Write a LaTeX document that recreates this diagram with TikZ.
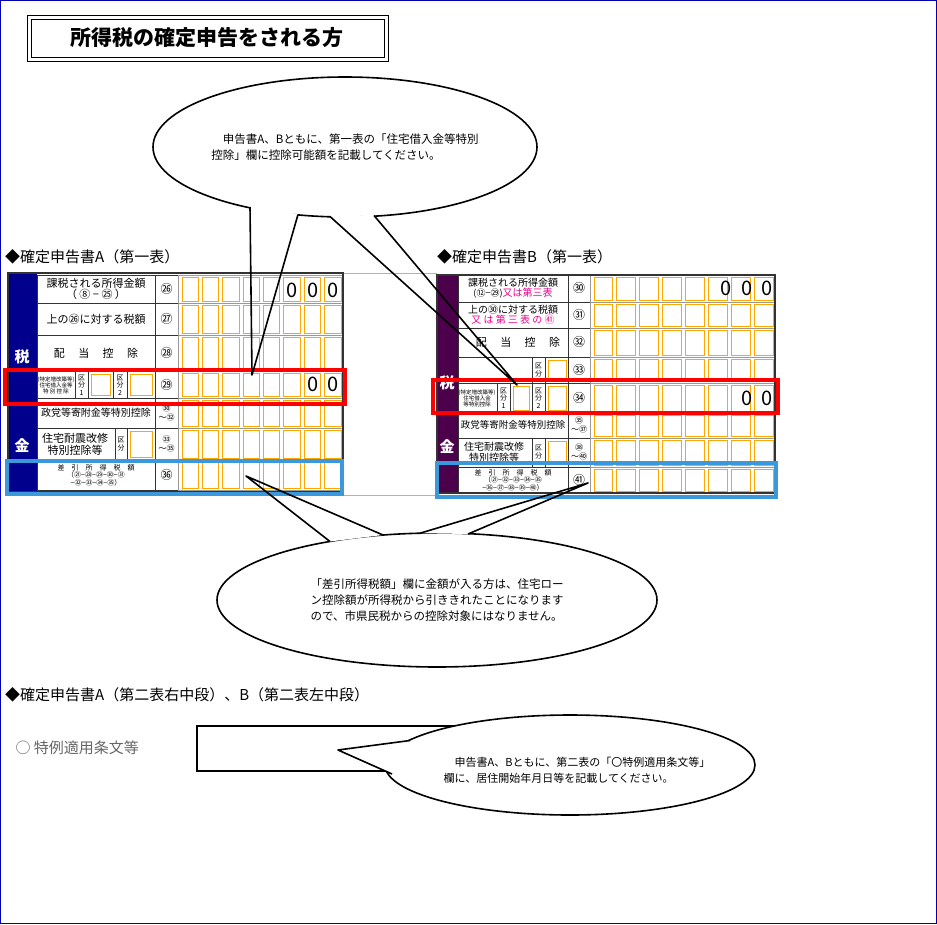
\documentclass[tikz,border=0pt]{standalone}
\usepackage{fontspec}
\setmainfont{Noto Sans CJK JP}
\begin{document}
\begin{tikzpicture}[x=1pt,y=-1pt,
  cellc/.style={draw=orange!70!yellow,line width=0.8pt},
  grid/.style={draw=black!80,line width=0.8pt},
  lab/.style={font=\fontsize{11}{12}\selectfont,inner sep=0pt,align=center},
  labb/.style={font=\fontsize{10}{11}\selectfont,inner sep=0pt,align=center},
  tiny/.style={font=\fontsize{5.5}{6}\selectfont,inner sep=0pt,align=center},
  num/.style={font=\fontsize{12}{13}\selectfont,inner sep=0pt},
  dig/.style={font=\fontsize{20}{20}\selectfont,inner sep=0pt},
  head/.style={font=\fontsize{15}{16}\selectfont,anchor=west,inner sep=0pt},
  balloon/.style={draw=black,line width=1.6pt,fill=white},
  pline/.style={draw=black,line width=1.6pt,line join=round},
  btext/.style={font=\fontsize{11.5}{16}\selectfont,align=left,inner sep=0pt}]
\newcommand\cellrow[5]{%
  \pgfmathsetmacro\cw{(#2-#1)/#5}
  \foreach \i in {1,...,#5}{\draw[cellc] ({#1+(\i-1)*\cw+2},{#3+2}) rectangle ({#1+\i*\cw-2},{#4-2});}}
\useasboundingbox (0,0) rectangle (937,924);
\draw[blue!70!black,line width=1pt] (0.5,0.5) rectangle (936.5,923.5);
% title
\draw[line width=1pt] (27,15) rectangle (388,61);
\draw[line width=1pt] (31,19) rectangle (384,57);
\node[font=\fontsize{21}{22}\selectfont\bfseries] (title) at (207,38) {所得税の確定申告をされる方};
% headings
\node[head] (hA) at (5,257) {◆確定申告書A（第一表）};
\node[head] (hB) at (437,257) {◆確定申告書B（第一表）};
\node[head] (h2) at (5,695) {◆確定申告書A（第二表右中段）、B（第二表左中段）};
% ---------- Form A ----------
\draw[black!30] (343,273) -- (437,273);
\draw[black!30] (343,495) -- (437,495);
\fill[blue!55!black] (8,273) rectangle (37,495);
\node[font=\fontsize{15}{15}\selectfont\bfseries,text=white] (aZ) at (22,357) {税};
\node[font=\fontsize{15}{15}\selectfont\bfseries,text=white] (aK) at (22,446) {金};
\foreach \a/\b in {275/303,303/335,335/371,371/398,398/428,428/460,460/490}{
  \draw[grid] (37,\a) rectangle (155,\b);
  \draw[grid] (155,\a) rectangle (178,\b);
  \draw[black!40] (178,\a) rectangle (343,\b);
  \cellrow{180}{343}{\a}{\b}{8}}
\draw[grid,line width=1.2pt] (8,273) rectangle (343,492);
\node[lab] (a1) at (96,289) {課税される所得金額\\[-1pt]（ ⑧ − ㉕ ）};
\node[lab] (a2) at (96,319) {上の㉖に対する税額};
\node[lab] (a3) at (96,353) {配　 当　 控　 除};
\node[tiny] (a4) at (56,385) {(特定増改築等)\\住宅借入金等\\特 別 控 除};
\draw[grid] (75,371) -- (75,398) (88,371)--(88,398) (113,371)--(113,398) (127,371)--(127,398);
\node[tiny,font=\fontsize{7}{7.5}\selectfont] at (81.5,385) {区\\分\\1};\node[tiny,font=\fontsize{7}{7.5}\selectfont] at (120,385) {区\\分\\2};
\draw[cellc] (91,374) rectangle (110,395); \draw[cellc] (130,374) rectangle (152,395);
\node[labb] (a5) at (96,413) {政党等寄附金等特別控除};
\node[lab] (a6) at (75,444) {住宅耐震改修\\特別控除等};
\draw[grid] (115,428) -- (115,460) (127,428)--(127,460);
\node[tiny,font=\fontsize{7}{8}\selectfont] at (121,444) {区\\分}; \draw[cellc] (130,431) rectangle (152,457);
\node[tiny,font=\fontsize{7}{7.5}\selectfont] (a7) at (96,475) {差　引　所　得　税　額\\（㉑−㉘−㉙−㉚−㉛\\−㉜−㉝−㉞−㉟）};
\foreach \t/\y in {㉖/289,㉗/319,㉘/353,㉙/385,㊱/475}{\node[num] at (166.5,\y) {\t};}
\node[tiny,font=\fontsize{8}{9}\selectfont] at (166.5,413) {㉚\\〜㉜};
\node[tiny,font=\fontsize{8}{9}\selectfont] at (166.5,444) {㉝\\〜㉟};
\node[dig] at (292,290) {0}; \node[dig] at (313,290) {0}; \node[dig] at (333,290) {0};
\node[dig] at (313,384) {0}; \node[dig] at (333,384) {0};
% ---------- Form B ----------
\fill[violet!60!black] (437,275) rectangle (458,493);
\node[font=\fontsize{15}{15}\selectfont\bfseries,text=white] (bZ) at (447,383) {税};
\node[font=\fontsize{15}{15}\selectfont\bfseries,text=white] (bK) at (447,447) {金};
\foreach \a/\b in {275/302,302/328,328/357,357/383,383/413,413/438,438/467,467/493}{
  \draw[grid] (458,\a) rectangle (568,\b);
  \draw[grid] (568,\a) rectangle (590,\b);
  \draw[black!40] (590,\a) rectangle (775,\b);
  \cellrow{592}{775}{\a}{\b}{8}}
\draw[grid,line width=1.2pt] (437,275) rectangle (775,493);
\node[labb] (b1) at (513,288) {課税される所得金額\\[-1pt]{\fontsize{9}{9}\selectfont(⑫−㉙)}\textcolor{magenta}{又は第三表}};
\node[labb] (b2) at (513,315) {上の㉚に対する税額\\[-1pt]\textcolor{magenta}{又 は 第 三 表 の ㊶}};
\node[lab] (b3) at (518,342) {配　 当　 控　 除};
\draw[grid] (532,357)--(532,383) (545,357)--(545,383);
\node[tiny,font=\fontsize{7}{8}\selectfont] at (538.5,370) {区\\分}; \draw[cellc] (548,360) rectangle (566,380);
\node[tiny] (b5) at (477,398) {(特定増改築等)\\住宅借入金\\等特別控除};
\draw[grid] (497,383)--(497,413) (510,383)--(510,413) (532,383)--(532,413) (545,383)--(545,413);
\node[tiny,font=\fontsize{7}{7.5}\selectfont] at (503.5,398) {区\\分\\1};\node[tiny,font=\fontsize{7}{7.5}\selectfont] at (538.5,398) {区\\分\\2};
\draw[cellc] (513,386) rectangle (529,410); \draw[cellc] (548,386) rectangle (566,410);
\node[labb,font=\fontsize{9.5}{10}\selectfont] (b6) at (513,425) {政党等寄附金等特別控除};
\node[labb] (b7) at (494,452) {住宅耐震改修\\特別控除等};
\draw[grid] (532,438)--(532,467) (545,438)--(545,467);
\node[tiny,font=\fontsize{7}{8}\selectfont] at (538.5,452) {区\\分}; \draw[cellc] (548,441) rectangle (566,464);
\node[tiny,font=\fontsize{7}{7.5}\selectfont] (b8) at (513,480) {差　引　所　得　税　額\\（㉑−㉜−㉝−㉞−㉟\\−㊱−㊲−㊳−㊴−㊵）};
\foreach \t/\y in {㉚/288,㉛/315,㉜/342,㉝/370,㉞/398,㊶/480}{\node[num] at (579,\y) {\t};}
\node[tiny,font=\fontsize{8}{9}\selectfont] at (579,425) {㉟\\〜㊲};
\node[tiny,font=\fontsize{8}{9}\selectfont] at (579,452) {㊳\\〜㊵};
\node[dig] at (726,288) {0}; \node[dig] at (747,288) {0}; \node[dig] at (767,288) {0};
\node[dig] at (747,398) {0}; \node[dig] at (767,398) {0};
% highlight boxes
\draw[red,line width=4pt] (5,370) rectangle (345,404);
\draw[cyan!70!blue!80,line width=4pt] (7,461) rectangle (342,494);
\draw[red,line width=4pt] (433,380) rectangle (778,413);
\draw[cyan!70!blue!80,line width=4pt] (437,463) rectangle (776,497);
% ---------- bottom field ----------
\node[font=\fontsize{15}{16}\selectfont,text=black!60,anchor=west] (tk) at (12,748) {○ 特例適用条文等};
\draw[line width=1.5pt] (197,726) rectangle (520,771);
% ---------- callouts ----------
\coordinate (p1) at (252,375); \coordinate (p2) at (517,385);
\coordinate (p3) at (246,476); \coordinate (p4) at (588,483);
\coordinate (p5) at (338,750);
% callout 1
\draw[balloon] (345,147) ellipse [x radius=192,y radius=70];
\begin{scope}\clip (345,147) ellipse [x radius=196,y radius=74];
  \fill[white] (250,206)--(p1)--(298,214)--cycle; \fill[white] (330,216)--(p2)--(374,215)--cycle;\end{scope}
\draw[pline] (250,207)--(p1)--(298,214.5);
\draw[pline] (330,216.5)--(p2)--(374,215.5);
\node[btext] (t1) at (345,147) {\hspace*{1em}申告書A、Bともに、第一表の「住宅借入金等特別\\控除」欄に控除可能額を記載してください。};
% callout 2
\draw[balloon] (437,600) ellipse [x radius=220,y radius=67];
\begin{scope}\clip (437,600) ellipse [x radius=224,y radius=71];
  \fill[white] (330,541.5)--(p3)--(383,535)--cycle; \fill[white] (420,533.2)--(p4)--(468,534)--cycle;\end{scope}
\draw[pline] (330,541.5)--(p3)--(383,535);
\draw[pline] (420,533.2)--(p4)--(468,534);
\node[btext] (t2) at (437,600) {「差引所得税額」欄に金額が入る方は、住宅ロー\\ン控除額が所得税から引ききれたことになります\\ので、市県民税からの控除対象にはなりません。};
% callout 3
\draw[balloon] (570,765) ellipse [x radius=185,y radius=50];
\begin{scope}\clip (570,765) ellipse [x radius=189,y radius=54];
  \fill[white] (410,740.5)--(p5)--(392,774)--cycle;\end{scope}
\draw[pline] (410,740.5)--(p5)--(392,774);
\node[btext,font=\fontsize{11}{16}\selectfont] (t3) at (577,770) {\hspace*{1em}申告書A、Bともに、第二表の「〇特例適用条文等」\\欄に、居住開始年月日等を記載してください。};
\end{tikzpicture}
\end{document}
